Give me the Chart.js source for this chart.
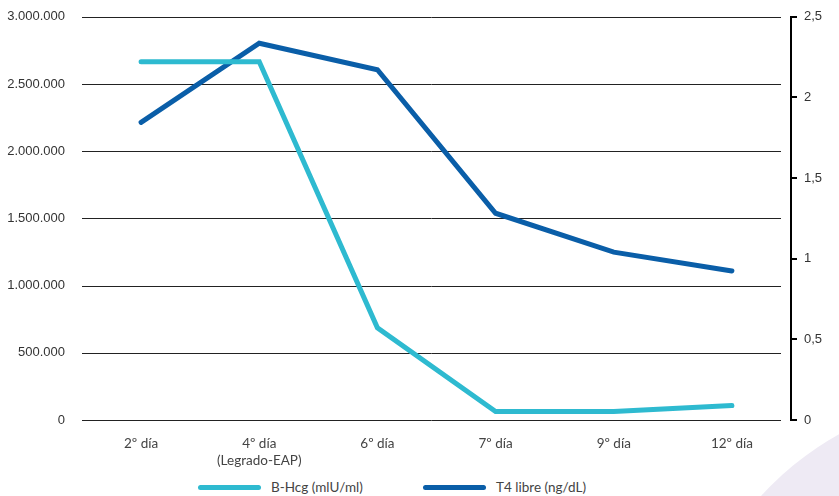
<!DOCTYPE html>
<html>
<head>
<meta charset="utf-8">
<script src="https://cdn.jsdelivr.net/npm/chart.js@4"></script>
<style>
  html, body { margin: 0; padding: 0; background: #fff; overflow: hidden; }
  #wrap { position: relative; width: 839px; height: 496px; }
  #blob { position: absolute; left: 680px; top: 395px; width: 620px; height: 620px; border-radius: 50%; background: #eeeaf4; }
  #c { position: absolute; left: 0; top: 0; }
  .leg { position: absolute; top: 478px; font: 13.5px Lato, sans-serif; color: #444; white-space: nowrap; line-height: 18px; }
  .leg span.ln { display: inline-block; width: 63px; height: 5px; border-radius: 3px; vertical-align: middle; margin-right: 10px; position: relative; top: -1px; }
</style>
</head>
<body>
<div id="wrap">
  <div id="blob"></div>
  <canvas id="c" width="839" height="470"></canvas>
  <div class="leg" style="left:198px"><span class="ln" style="background:#2ebad0"></span>B-Hcg (mlU/ml)</div>
  <div class="leg" style="left:423px"><span class="ln" style="background:#0a5ea8"></span>T4 libre (ng/dL)</div>
</div>
<script>
const labels = ['2º día', ['4º día', '(Legrado-EAP)'], '6º día', '7º día', '9º día', '12º día'];
const hcg = [2666000, 2666000, 686000, 63000, 63000, 107000];
const t4 = [1.845, 2.336, 2.172, 1.282, 1.041, 0.924];
const leftTicks = [0, 500000, 1000000, 1500000, 2000000, 2500000, 3000000];
const rightTicks = [0, 0.5, 1, 1.5, 2, 2.5];

function fmtThousands(v) {
  return String(v).replace(/\B(?=(\d{3})+(?!\d))/g, '.');
}

// horizontal gridlines that stop a bit before the right axis
const gridPlugin = {
  id: 'gridLines',
  beforeDatasetsDraw(chart) {
    const ctx = chart.ctx, a = chart.chartArea, y = chart.scales.y;
    ctx.save();
    ctx.strokeStyle = '#222';
    ctx.lineWidth = 1;
    leftTicks.forEach(function(t) {
      const py = Math.round(y.getPixelForValue(t)) + 0.5;
      ctx.beginPath();
      ctx.moveTo(a.left, py);
      ctx.lineTo(a.right - 10, py);
      ctx.stroke();
    });
    ctx.restore();
  }
};

const ctx = document.getElementById('c').getContext('2d');
const chart = new Chart(ctx, {
  type: 'line',
  data: {
    labels: labels,
    datasets: [
      {
        label: 'B-Hcg (mlU/ml)',
        data: hcg,
        yAxisID: 'y',
        borderColor: '#2ebad0',
        backgroundColor: '#2ebad0',
        borderWidth: 5,
        borderCapStyle: 'round',
        pointRadius: 0,
        tension: 0
      },
      {
        label: 'T4 libre (ng/dL)',
        data: t4,
        yAxisID: 'y1',
        borderColor: '#0a5ea8',
        backgroundColor: '#0a5ea8',
        borderWidth: 5,
        borderCapStyle: 'round',
        pointRadius: 0,
        tension: 0
      }
    ]
  },
  options: {
    responsive: false,
    animation: false,
    layout: { padding: { top: 16, left: 0, right: 0, bottom: 0 } },
    plugins: {
      legend: { display: false },
      tooltip: { enabled: false }
    },
    scales: {
      x: {
        offset: true,
        grid: { display: false },
        border: { display: false },
        ticks: { color: '#444', font: { family: 'Lato', size: 13.5 }, padding: 8, maxRotation: 0 },
        afterFit(s) { s.height = 50; }
      },
      y: {
        position: 'left',
        min: 0, max: 3000000,
        afterBuildTicks(s) { s.ticks = leftTicks.map(v => ({ value: v })); },
        grid: { display: false },
        border: { display: false },
        ticks: {
          color: '#333',
          font: { family: 'Liberation Sans', size: 13 },
          padding: 9,
          callback: v => fmtThousands(v)
        },
        afterFit(s) { s.width = 82; }
      },
      y1: {
        position: 'right',
        min: 0, max: 2.5,
        afterBuildTicks(s) { s.ticks = rightTicks.map(v => ({ value: v })); },
        grid: { drawOnChartArea: false, drawTicks: true, tickLength: 6, color: '#000', lineWidth: 2 },
        border: { display: true, color: '#000', width: 2 },
        ticks: {
          color: '#333',
          font: { family: 'Liberation Sans', size: 13 },
          padding: 7,
          callback: v => String(v).replace('.', ',')
        },
        afterFit(s) { s.width = 48; }
      }
    }
  },
  plugins: [gridPlugin]
});
</script>
</body>
</html>
